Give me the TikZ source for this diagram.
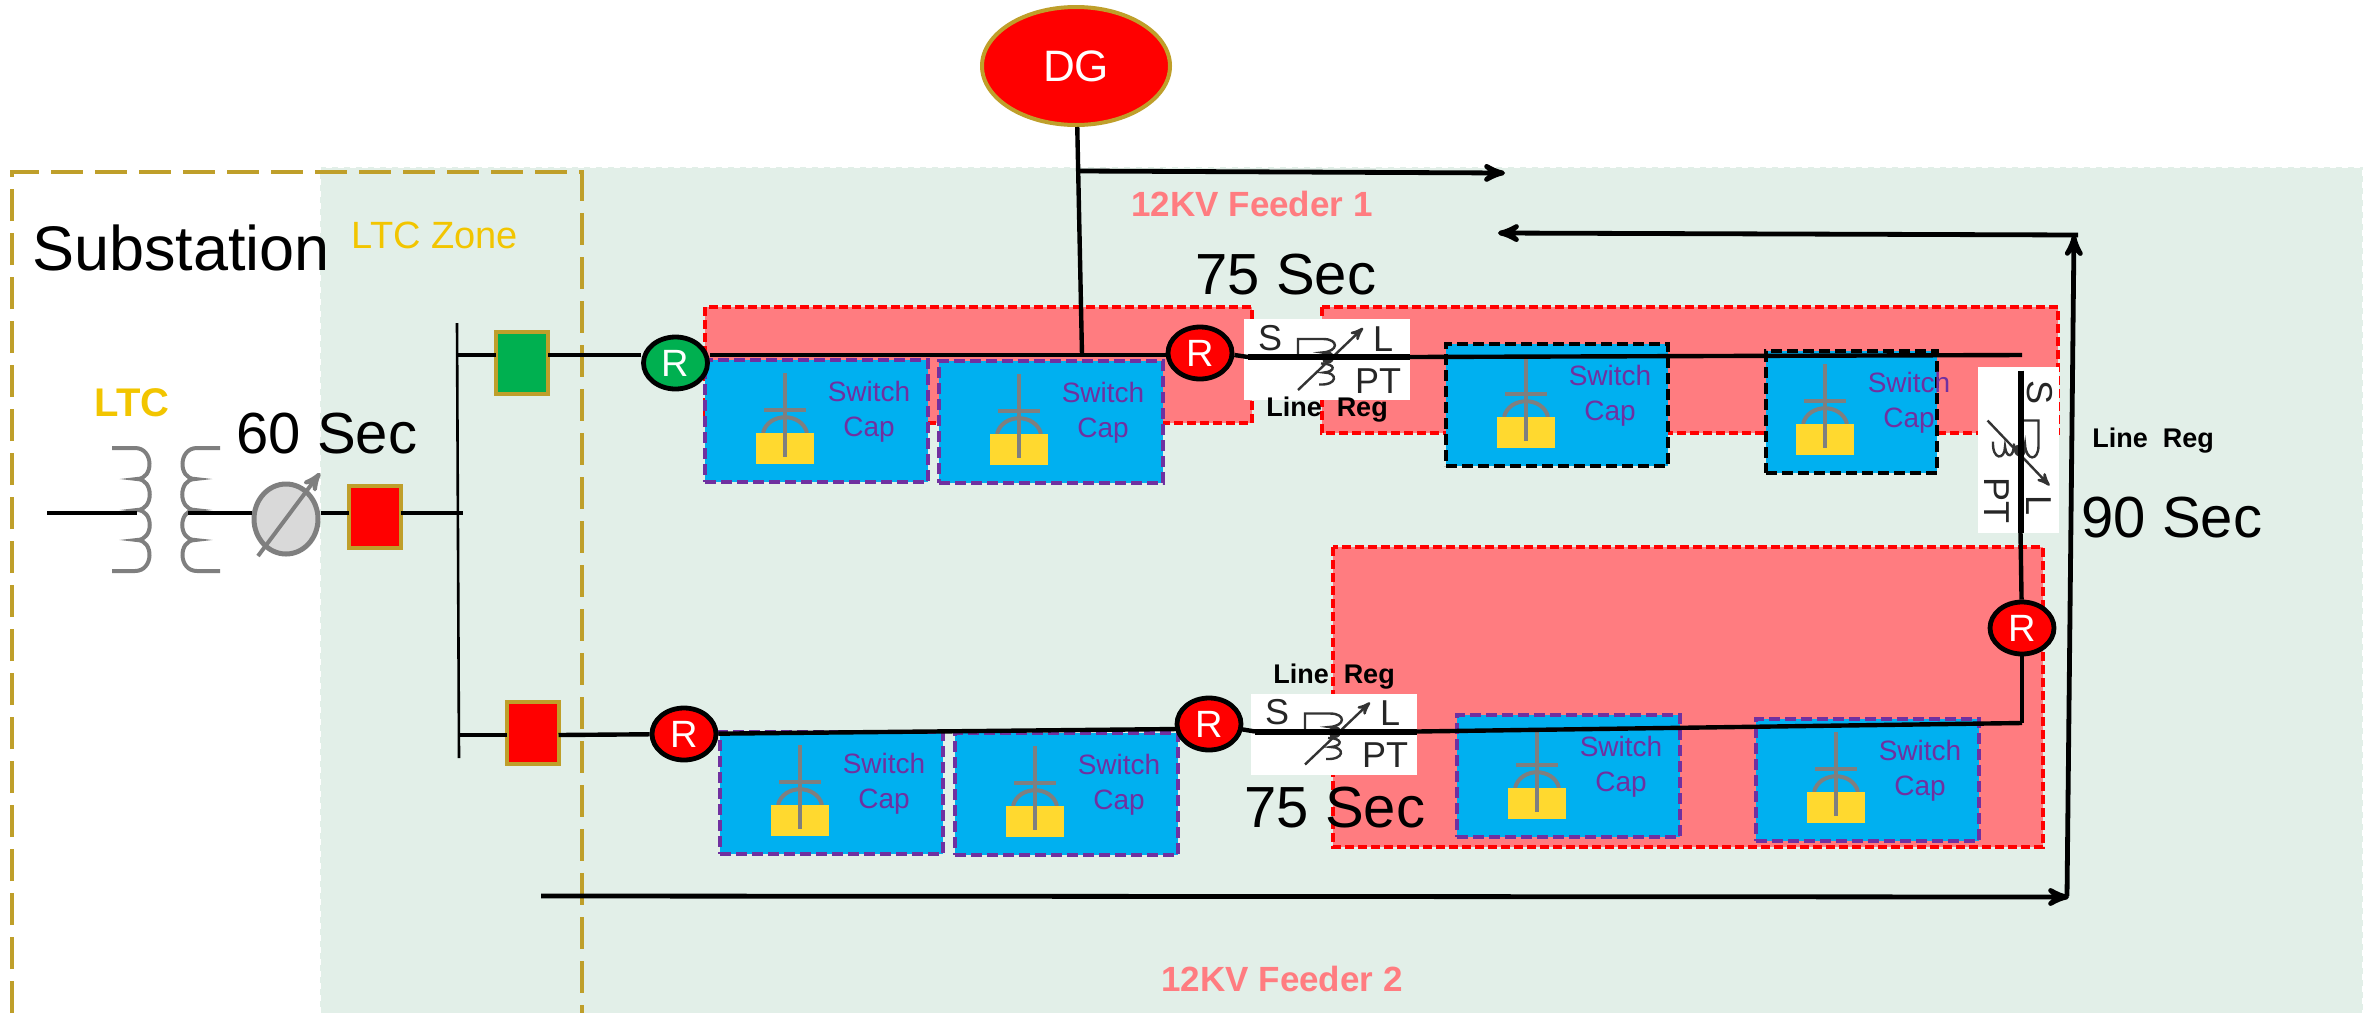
\documentclass[tikz,border=0pt]{standalone}
\usepackage{fontspec}
\setmainfont{Liberation Sans}
\usetikzlibrary{arrows, shapes.geometric}
\definecolor{bggreen}{HTML}{E2EFE8}
\definecolor{zonepink}{HTML}{FF7C80}
\definecolor{capblue}{HTML}{00B0F0}
\definecolor{capyellow}{HTML}{FFD92F}
\definecolor{capviolet}{HTML}{7030A0}
\definecolor{goldline}{HTML}{BF9F2A}
\definecolor{ltcyellow}{HTML}{F2C500}
\definecolor{grnfill}{HTML}{00B050}
\definecolor{symgray}{HTML}{7F7F7F}
\newcommand{\fsz}[1]{\fontsize{#1}{#1}\selectfont}
\tikzset{>=stealth',
         feeder/.style={line width=2.2pt, black},
         bigarrow/.style={line width=2.4pt, black, ->},
         bar/.style={line width=1.3pt, black},
         zone/.style={draw=red, fill=zonepink, line width=2pt, dash pattern=on 4.5pt off 2pt},
         capbox/.style={draw=#1, fill=capblue, line width=2pt, dash pattern=on 5.5pt off 2.5pt,
                        anchor=north west, inner sep=0pt, outer sep=0pt, minimum height=61pt},
         relay/.style={ellipse, draw=black, line width=2.4pt, fill=#1, text=white, inner sep=0pt,
                       minimum width=32pt, minimum height=26pt, font=\fsz{19}},
         breaker/.style={draw=goldline, line width=2pt, fill=#1, inner sep=0pt, outer sep=0pt,
                         minimum width=26pt, minimum height=31pt},
         symline/.style={symgray, line width=2pt},
         bigtext/.style={anchor=base, font=\fsz{29}, inner sep=0pt},
         regtext/.style={anchor=base, font=\bfseries\fsz{13.5}, inner sep=0pt},
         feedertext/.style={anchor=base, text=zonepink, font=\bfseries\fsz{17.5}, inner sep=0pt},
         switchtext/.style={align=center, text=capviolet, font=\fsz{14}, inner sep=0pt},
         regletter/.style={anchor=base, text=black!85, font=\fsz{18}, inner sep=0pt},
         pics/winding/.style={code={
            \draw[symline] (-54,0) -- (-31,0)
                .. controls (-12,0) and (-12,31) .. (-29,31)
                .. controls (-12,31) and (-12,62) .. (-29,62)
                .. controls (-12,62) and (-12,92) .. (-29,92)
                .. controls (-12,92) and (-12,123) .. (-31,123) -- (-54,123);
         }},
         pics/regulator/.style={code={
            \node[fill=white, inner sep=0pt, outer sep=0pt, minimum width=83pt, minimum height=40.5pt] (-box) at (0,0) {};
            \draw[line width=1.2pt, black!80] (-29,-2.5) -- (-29,-20.5) -- (-4,-20.5)
                .. controls (12,-20.5) and (12,-8) .. (-5,-7)
                .. controls (8,-6) and (8,2) .. (-4,2);
            \draw[line width=1.2pt, black!80] (-6,4) .. controls (9,4) and (9,12) .. (-3,13)
                .. controls (11,13) and (11,26) .. (-8,25);
            \draw[line width=1.2pt, black!80, ->] (-29,30.5) -- (36,-31.5);
            \fill[black!80] (1,-2) circle (6);
            \draw[line width=3pt, black] (-79,-2.5) coordinate (-in) -- (83,-2.5) coordinate (-out);
            \node[regletter] (-s) at (-57,-9.5) {S};
            \node[regletter] (-l) at (56,-8.5) {L};
            \node[regletter] (-pt) at (51,33.5) {PT};
         }},
         }

\begin{document}
\begin{tikzpicture}[x=0.5pt, y=-0.5pt]
    \useasboundingbox (0,0) rectangle (2377,1013);

    % backgrounds
    \fill[bggreen] (320,167) rectangle (2363,1013);
    \draw[white, line width=0.8pt, dashed] (320,1013) -- (320,167) -- (2363,167) -- (2363,1013);
    \draw[zone] (705,307) rectangle (1252,423);
    \draw[zone] (1322,307) rectangle (2058,433);
    \draw[zone] (1333,547) rectangle (2043,847);

    % capacitor boxes
    \foreach \n/\x/\y/\w/\sx/\lx/\col in {capa/705/360/223/80/164/capviolet,
                                          capb/939/361/224/80/164/capviolet,
                                          capc/1446/344/222/80/164/black,
                                          capd/1766/351/171/59/143/black,
                                          cape/720/732/223/80/164/capviolet,
                                          capf/955/733/223/80/164/capviolet,
                                          capg/1457/715/223/80/164/capviolet,
                                          caph/1756/719/223/80/164/capviolet} {
        \begin{scope}[shift={(\x,\y)}]
            \node[capbox=\col, minimum width=\w*0.5pt] (\n) at (0,0) {};
            \draw[symline] (\sx-22,73) .. controls (\sx-17,52) and (\sx+17,52) .. (\sx+22,73);
            \fill[capyellow] (\sx-29,73) rectangle (\sx+29,104);
            \draw[symline] (\sx,13) -- (\sx,97);
            \draw[symline] (\sx-21,50) -- (\sx+21,50);
            \node[switchtext] (\n-text) at (\lx,51.5) {Switch\\[3.5pt]Cap};
        \end{scope}
    }

    % substation outline
    \draw[goldline, line width=1.8pt, dash pattern=on 16pt off 6pt] (12,1013) -- (12,172) -- (582,172) -- (582,1013);

    % regulators
    \pic (regt) at (1327,359.5) {regulator};
    \pic (regb) at (1334,734) {regulator};
    \pic[rotate=-90, transform shape] (regv) at (2018,449.5) {regulator};

    % nodes
    \node[ellipse, draw=goldline, line width=2pt, fill=red, text=white, inner sep=0pt,
          minimum width=94pt, minimum height=59pt, font=\fsz{22}] (dg) at (1076,66) {DG};
    \node[breaker=red] (brkm) at (374.5,516.5) {};
    \node[breaker=grnfill] (brkt) at (522,363) {};
    \node[breaker=red] (brkb) at (532.5,733) {};
    \node[relay=grnfill] (rt) at (675.5,363) {R};
    \node[relay=red] (rtm) at (1200,353) {R};
    \node[relay=red] (rb) at (684,734) {R};
    \node[relay=red] (rbm) at (1209,724) {R};
    \node[relay=red] (rv) at (2022,628) {R};

    \coordinate (busa) at (457,323);
    \coordinate (busb) at (459,758);
    \coordinate (jt) at (458,355);
    \coordinate (jm) at (463,513);
    \coordinate (jb) at (459,735);
    \coordinate (src) at (47,513);
    \coordinate (srcw) at (137,513);
    \coordinate (secw) at (188,513);
    \coordinate (dgtap) at (1082,355);
    \coordinate (feedend) at (2022,355);
    \coordinate (corner) at (2022,723);
    \coordinate (rbmw) at (1178,729);
    \coordinate (rbme) at (1240,729);
    \coordinate (dgarrowa) at (1079,171);
    \coordinate (dgarrowb) at (1505,173);
    \coordinate (retstart) at (541,896);
    \coordinate (retend) at (2069,897);
    \coordinate (upstart) at (2067,896);
    \coordinate (uptop) at (2074,235);
    \coordinate (leftstart) at (2078,235);
    \coordinate (leftend) at (1498,233);

    % transformer and shifter
    \pic at (166,448) {winding};
    \pic[xscale=-1] at (166,448) {winding};
    \node[ellipse, draw=symgray, line width=2.5pt, fill=black!15, inner sep=0pt,
          minimum width=32pt, minimum height=35pt] (shift) at (286,519) {};
    \coordinate (sfta) at (258,556);
    \coordinate (sftb) at (320,473);

    % connectors
    \draw[feeder] (src) -- (srcw);
    \draw[feeder] (secw) -- (secw -| shift.west);
    \draw[feeder] (jm -| shift.east) -- (jm -| brkm.west);
    \draw[feeder] (jm -| brkm.east) -- (jm);
    \draw[bar] (busa) -- (busb);
    \draw[feeder] (jt) -- (jt -| brkt.west);
    \draw[feeder] (jt -| brkt.east) -- (jt -| rt.west);
    \draw[feeder] (jt -| rt.east) -- (jt -| rtm.west);
    \draw[feeder] (jt -| rtm.east) -- (regt-in);
    \draw[feeder] (regt-out) -- (feedend);
    \draw[feeder] (dg) -- (dgtap);
    \draw[feeder] (jb) -- (jb -| brkb.west);
    \draw[feeder] (jb -| brkb.east) -- (rb);
    \draw[feeder] (rb) -- (rbmw);
    \draw[feeder] (rbme) -- (regb-in);
    \draw[feeder] (regb-out) -- (corner);
    \draw[feeder] (corner) -- (rv);
    \draw[feeder] (rv) -- (regv-out);
    \draw[symline, ->] (sfta) -- (sftb);
    \draw[bigarrow] (dgarrowa) -- (dgarrowb);
    \draw[bigarrow] (retstart) -- (retend);
    \draw[bigarrow] (upstart) -- (uptop);
    \draw[bigarrow] (leftstart) -- (leftend);

    % labels
    \node[anchor=base, font=\fsz{31.5}, inner sep=0pt] (subst) at (181,270) {Substation};
    \node[anchor=base, text=ltcyellow, font=\fsz{19}, inner sep=0pt] (ltczone) at (435,248) {LTC Zone};
    \node[anchor=base, text=ltcyellow, font=\bfseries\fsz{20}, inner sep=0pt] (ltc) at (132,416) {LTC};
    \node[bigtext] (secm) at (327,453) {60 Sec};
    \node[bigtext] (sect) at (1286,294) {75 Sec};
    \node[bigtext] (secb) at (1335,827) {75 Sec};
    \node[bigtext] (secv) at (2172,537) {90 Sec};
    \node[regtext] (lrt) at (1327,416) {Line\ \ Reg};
    \node[regtext] (lrb) at (1334,683) {Line\ \ Reg};
    \node[regtext] (lrv) at (2153,447) {Line\ \ Reg};
    \node[feedertext] (fa) at (1252,216) {12KV Feeder 1};
    \node[feedertext] (fb) at (1282,991) {12KV Feeder 2};
\end{tikzpicture}
\end{document}
